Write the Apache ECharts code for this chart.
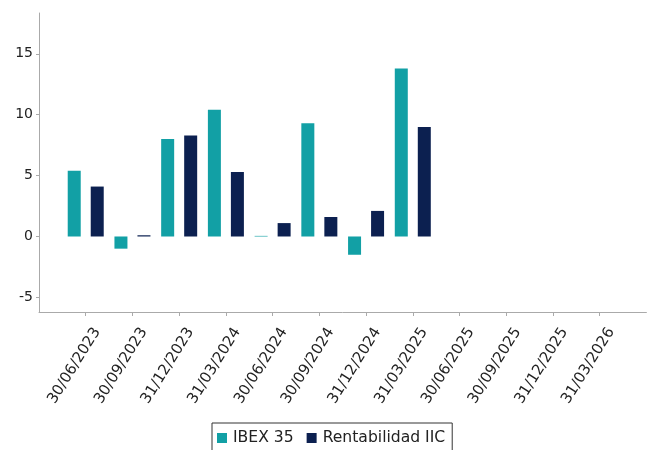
<!DOCTYPE html>
<html>
<head>
<meta charset="utf-8">
<script src="https://cdn.jsdelivr.net/npm/echarts@6/dist/echarts.min.js"></script>
<style>html,body{margin:0;padding:0;background:#fff}#c{width:648px;height:450px}</style>
</head>
<body>
<div id="c"></div>
<script>
const categories = ['30/06/2023','30/09/2023','31/12/2023','31/03/2024','30/06/2024','30/09/2024','31/12/2024','31/03/2025','30/06/2025','30/09/2025','31/12/2025','31/03/2026'];
const ibex35 = [5.4, -1.0, 8.0, 10.4, 0.05, 9.3, -1.5, 13.8, null, null, null, null];
const rentabilidadIIC = [4.1, 0.1, 8.3, 5.3, 1.1, 1.6, 2.1, 9.0, null, null, null, null];
const yTicks = [-5, 0, 5, 10, 15];

const cats = [''].concat(categories, ['']);
const pad = arr => [null].concat(arr, [null]);

const chart = echarts.init(document.getElementById('c'), null, {renderer: 'canvas'});
chart.setOption({
  animation: false,
  textStyle: {fontFamily: 'DejaVu Sans'},
  legend: {
    top: 423,
    left: 212,
    data: ['IBEX 35', 'Rentabilidad IIC'],
    icon: 'rect',
    itemWidth: 10,
    itemHeight: 10,
    itemGap: 13,
    padding: [7, 7, 8, 5],
    borderColor: '#333',
    borderWidth: 1,
    textStyle: {fontSize: 15.6, color: '#222', fontFamily: 'DejaVu Sans', padding: [0, 0, 0, 1]}
  },
  grid: {left: 39, right: 0, top: 13, bottom: 138, containLabel: false},
  xAxis: {
    type: 'category',
    data: cats,
    boundaryGap: false,
    axisLine: {onZero: false, lineStyle: {color: '#aaa'}},
    axisTick: {show: true, length: 4, lineStyle: {color: '#aaa'}, interval: (i) => i > 0 && i < cats.length - 1},
    axisLabel: {
      rotate: 58, fontSize: 15, color: '#222', margin: 10, interval: 0, fontFamily: 'DejaVu Sans',
      align: 'right', verticalAlign: 'top', padding: [6, 0, 0, 0]
    },
    splitLine: {show: false}
  },
  yAxis: {
    type: 'value',
    min: -6.2,
    max: 18.35,
    splitNumber: 5,
    axisLine: {show: true, lineStyle: {color: '#aaa'}},
    axisTick: {show: true, length: 3, lineStyle: {color: '#aaa'}},
    axisLabel: {
      fontSize: 14, color: '#222', margin: 6, fontFamily: 'DejaVu Sans',
      showMinLabel: false, showMaxLabel: false,
      formatter: v => yTicks.some(t => Math.abs(t - v) < 1e-6) ? String(Math.round(v)) : ''
    },
    splitLine: {show: false}
  },
  series: [
    {name: 'IBEX 35', type: 'bar', data: pad(ibex35), barWidth: 13, barGap: '77%', itemStyle: {color: '#12a0a5'}},
    {name: 'Rentabilidad IIC', type: 'bar', data: pad(rentabilidadIIC), barWidth: 13, barGap: '77%', itemStyle: {color: '#0c2050'}}
  ]
});
</script>
</body>
</html>
